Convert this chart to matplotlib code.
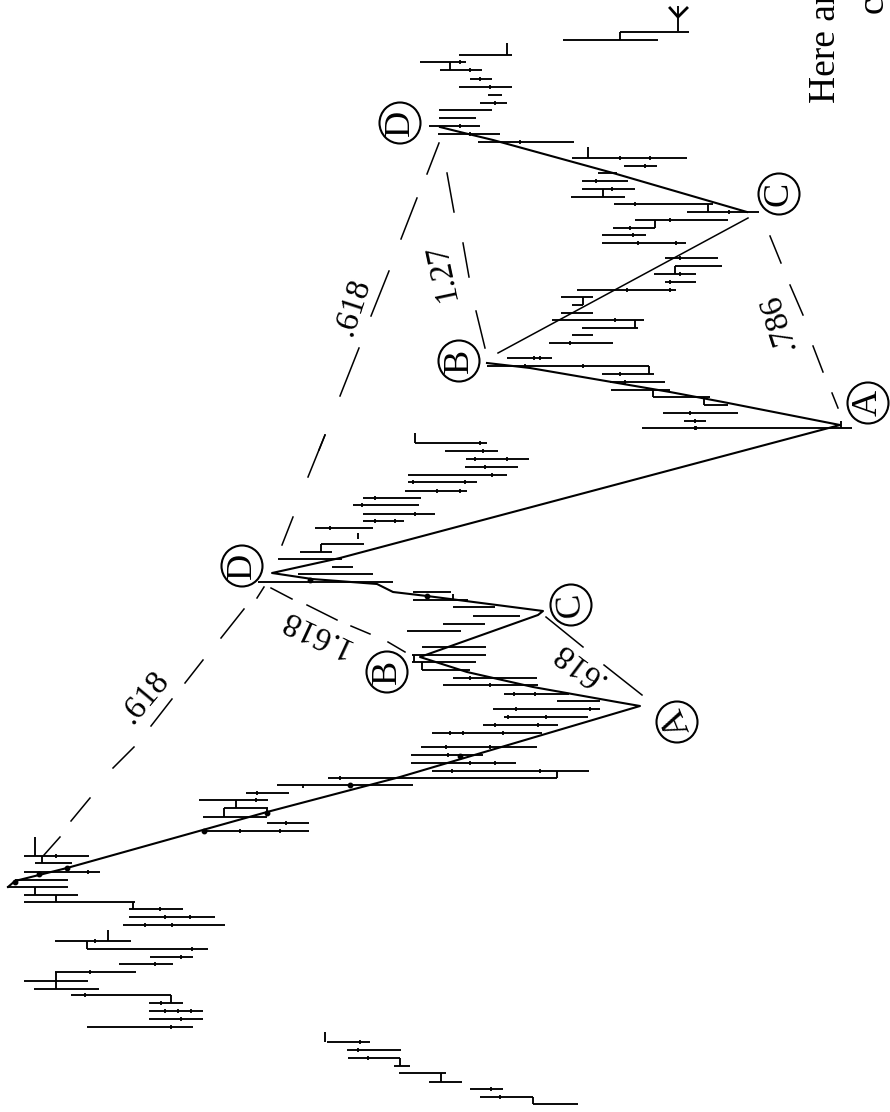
import matplotlib
matplotlib.use("Agg")
import matplotlib.pyplot as plt
from matplotlib.patches import Circle

# price bars: time position, low, high
bar_time = [1104, 1097, 1089, 1082, 1073, 1066, 1058, 1050, 1042,
            1027, 1019, 1011, 1003, 995, 989, 981, 972, 964, 957, 949, 941,
            925, 917, 909, 902, 895, 887, 880, 872, 863, 856,
            831, 823, 817, 808, 800, 793, 785, 778, 771, 763, 755, 747, 733, 725, 717,
            709, 701, 694, 685, 678, 670, 662, 655, 647,
            631, 624, 616, 607, 600, 592, 582, 574, 567, 559, 552, 544,
            528, 521, 514, 505, 498, 491, 482, 475, 467, 459, 451, 443,
            428, 421, 413, 405, 397, 390, 382, 374, 366, 358, 343, 335, 328, 320, 313,
            305, 297, 290, 282, 274, 266, 258, 243, 235, 228, 220, 212, 204, 197, 189,
            181, 173, 166, 158, 142, 134, 126, 118, 110, 103, 95, 87, 79, 70, 62, 55,
            40, 32]
bar_low = [533, 480, 470, 429, 399, 394, 348, 347, 327,
           87, 149, 149, 149, 71, 34, 24, 55, 119, 150, 87, 55,
           123, 129, 129, 24, 24, 7, 15, 24, 35, 24,
           203, 267, 203, 224, 199, 246, 277, 328, 432, 411, 411, 421, 432, 483, 504,
           493, 557, 504, 443, 453, 422, 412, 412, 422,
           407, 443, 473, 453, 413, 413, 258, 298, 332, 278, 300, 321,
           315, 363, 363, 353, 363, 405, 408, 408, 465, 466, 445, 415,
           642, 684, 663, 704, 653, 611, 610, 602, 487, 507, 549, 572, 582, 552, 561,
           572, 561, 577, 665, 654, 675, 665, 602, 602, 613, 635, 687, 614, 571, 582,
           582, 598, 624, 572, 478, 438, 429, 439, 439, 480, 488, 459, 470, 440, 420, 459,
           563, 620]
bar_high = [578, 533, 503, 462, 446, 410, 400, 401, 370,
            193, 203, 203, 183, 171, 99, 88, 136, 173, 193, 208, 131,
            225, 215, 183, 135, 78, 68, 68, 100, 72, 89,
            309, 309, 267, 268, 268, 289, 413, 557, 589, 516, 483, 537, 542, 558, 588,
            600, 600, 569, 538, 537, 470, 476, 486, 486,
            461, 485, 520, 495, 468, 451, 393, 373, 353, 342, 332, 364,
            373, 404, 435, 419, 421, 467, 477, 507, 518, 529, 498, 487,
            852, 706, 738, 728, 710, 670, 665, 654, 649, 552, 613, 593, 638, 644, 593,
            583, 593, 676, 696, 696, 722, 718, 686, 646, 655, 728, 759, 713, 625, 635,
            628, 617, 657, 687, 574, 500, 480, 476, 492, 507, 502, 512, 492, 482, 466, 512,
            658, 689]

# short vertical joins and spikes between bars: price, from, to
join_price = [325, 400, 441, 533, 35, 42, 35, 56, 133, 87, 108, 56, 56, 171,
              236, 224, 267, 321, 422, 557, 415, 358, 620, 507, 450, 588, 603,
              708, 655, 675, 583, 635, 649, 653, 704, 678, 414, 453, 841]
join_from = [1032, 1058, 1073, 1097, 837, 856, 887, 895, 902, 941, 930, 972, 981, 995,
             800, 808, 808, 544, 662, 771, 433, 533, 32, 43, 62, 147, 189,
             204, 220, 266, 297, 320, 366, 390, 397, 6, 655, 594, 421]
join_to = [1042, 1066, 1082, 1104, 856, 863, 895, 902, 909, 949, 941, 981, 989, 1003,
           808, 817, 814, 552, 670, 778, 443, 539, 40, 55, 70, 158, 197,
           212, 228, 274, 305, 328, 374, 397, 405, 31, 662, 600, 428]

# open and close nubs on the bars
nub_time = [856, 800, 786, 778, 793, 823, 831, 831, 872, 941, 949, 957, 964, 972, 995, 1003,
            1011, 1011, 1011, 1019, 1027, 917, 917, 925, 925, 909,
            1042, 1050, 1058, 1089, 1097,
            733, 733, 733, 747, 747, 755, 763, 763, 771, 771, 725, 725, 717, 717, 709, 709,
            694, 694, 685, 678,
            158, 158, 166, 142, 181, 189, 204, 212, 220, 228, 235, 243, 243, 258, 274, 282,
            290, 290, 320, 343, 358, 358, 366, 366, 374, 382, 413, 421, 428, 428, 126, 134,
            62, 70, 79, 87, 103,
            443, 451, 459, 459, 467, 475, 482, 482, 491, 491, 498, 505, 514, 521, 521, 528]
nub_price = [56, 256, 303, 340, 257, 286, 240, 280, 88, 95, 192, 181, 155, 90, 85, 161,
             165, 178, 191, 181, 171, 165, 190, 145, 172, 160,
             360, 358, 368, 491, 500,
             450, 463, 503, 446, 490, 448, 470, 495, 452, 540, 495, 538, 508, 546, 516, 590,
             514, 535, 490, 470,
             620, 650, 645, 520, 596, 612, 635, 729, 670, 630, 633, 638, 676, 680, 680, 670,
             627, 670, 615, 570, 534, 540, 525, 583, 620, 625, 690, 695, 695, 696, 460, 470,
             460, 470, 480, 490, 495,
             480, 483, 475, 507, 485, 492, 413, 465, 437, 460, 375, 362, 415, 375, 395, 330]

# heavy ink where bars and swing line run together
blob_price = [15, 39, 67, 204, 267, 350, 460, 310, 427]
blob_time = [882, 874, 868, 831, 813, 785, 756, 580, 596]

# swing line through the highs and lows
swing_price = [8, 15, 39, 67, 267, 400, 640, 617, 533, 467, 420, 538, 543, 520, 427, 393, 377,
               312, 272, 340, 840, 723, 670, 530, 487]
swing_time = [887, 881, 875, 868, 812, 777, 706, 702, 687, 672, 657, 615, 611, 608, 596, 592, 584,
              579, 573, 558, 425, 402, 392, 368, 363]
swing2_price = [498, 748]
swing2_time = [353, 218]
swing3_price = [747, 613, 493, 460, 440]
swing3_time = [212, 173, 140, 132, 127]

# arrow mark beside the last bar
arrow_price = [670, 678, 687]
arrow_time = [8, 17, 8]

# dashed ratio lines, one stroke per entry
dash_x1 = [44, 71, 113, 151, 185, 221, 257, 282, 308, 319, 340, 371, 401, 427,
           447, 463, 476, 770, 790, 813, 832, 271, 307, 351, 388, 546, 604]
dash_y1 = [855, 821, 768, 726, 683, 638, 598, 545, 477, 450, 396, 316, 239, 174,
           173, 243, 311, 236, 285, 346, 393, 588, 605, 626, 642, 617, 665]
dash_x2 = [60, 90, 134, 172, 203, 244, 264, 293, 325, 325, 359, 389, 417, 439,
           454, 469, 485, 781, 803, 823, 838, 292, 337, 370, 405, 583, 642]
dash_y2 = [837, 798, 747, 699, 660, 609, 587, 517, 435, 435, 348, 271, 198, 143,
           212, 277, 348, 263, 315, 372, 408, 599, 620, 634, 652, 647, 695]

pivot_labels = ["A", "B", "C", "D", "A", "B", "C", "D"]
pivot_x = [677, 387, 571, 242, 868, 459, 779, 400]
pivot_y = [722, 672, 605, 566, 403, 361, 194, 123]
pivot_angle = [112, 90, 96, 90, 90, 90, 90, 90]

ratio_labels = [".618", "1.618", ".618", ".618", "1.27", ".786"]
ratio_x = [145, 315, 578, 353, 442, 778]
ratio_y = [697, 633, 665, 307, 272, 322]
ratio_angle = [50, 155, 143, 72, 102, 108]

plt.rcParams["font.family"] = ["Liberation Serif", "DejaVu Serif"]

fig = plt.figure(figsize=(8.9, 11.12), dpi=100)
ax = fig.add_axes([0, 0, 1, 1])
ax.set_xlim(0, 890)
ax.set_ylim(1112, 0)
ax.axis("off")

ax.hlines(bar_time, bar_low, bar_high, color="black", lw=1.35)
ax.vlines(join_price, join_from, join_to, color="black", lw=1.35)
ax.plot(nub_price, nub_time, ls="none", marker="|", ms=3.2, mew=1.3, color="black")
ax.plot(blob_price, blob_time, ls="none", marker="o", ms=3.2, color="black")

ax.plot(swing_price, swing_time, color="black", lw=1.5)
ax.plot(swing2_price, swing2_time, color="black", lw=1.1)
ax.plot(swing3_price, swing3_time, color="black", lw=1.5)
ax.plot(arrow_price, arrow_time, color="black", lw=2)

for i in range(len(dash_x1)):
    ax.plot([dash_x1[i], dash_x2[i]], [dash_y1[i], dash_y2[i]], color="black", lw=1.1)

for i in range(len(pivot_labels)):
    ax.add_patch(Circle((pivot_x[i], pivot_y[i]), 20.5, fill=False, ec="black", lw=1.5))
    ax.text(pivot_x[i], pivot_y[i], pivot_labels[i], rotation=pivot_angle[i],
            ha="center", va="center", fontsize=26, rotation_mode="anchor")

for i in range(len(ratio_labels)):
    ax.text(ratio_x[i], ratio_y[i], ratio_labels[i], rotation=ratio_angle[i],
            ha="center", va="center", fontsize=24, rotation_mode="anchor")

# start of the caption, cut off by the page edge in the scan
ax.text(835, 103, "Here an", rotation=90, ha="left", va="baseline",
        fontsize=27, rotation_mode="anchor")
ax.text(883, 13, "c", rotation=90, ha="left", va="baseline",
        fontsize=27, rotation_mode="anchor")

fig.savefig("out.png", dpi=100)
